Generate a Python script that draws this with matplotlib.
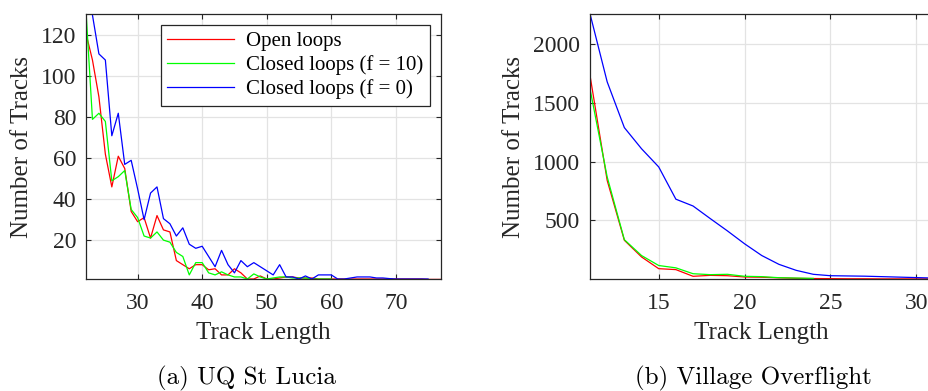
import numpy as np
import matplotlib
matplotlib.use("Agg")
import matplotlib.pyplot as plt

# (a) UQ St Lucia: track length 22..77
len_a = list(range(22, 78))
open_a = [121, 108, 90, 62, 46, 61, 55, 34, 29, 31, 21, 32, 25, 24, 10, 8, 6, 8, 8, 5.5,
          6, 3, 3, 6, 4, 1, 1, 2.5, 1, 1, 1.5, 2, 2, 1.5, 1.5, 1.5, 1, 1, 1, 1,
          1, 1, 1, 1, 1, 1, 1, 1, 1, 1, 1, 1, 1, 0.8, 0.8, 0.8]
closed10_a = [132, 79, 82, 78, 49, 51, 54, 35, 31, 22, 21, 24, 20, 19, 14, 12, 3, 9, 9, 4,
              3, 4.5, 3, 2, 2, 1, 3.5, 2, 1, 1.5, 2, 2, 1.5, 1.5, 1.5, 1, 1, 1, 1]
closed0_a = [150, 130, 111, 108, 71, 82, 57, 59, 45, 30, 43, 46, 30.5, 28, 22, 26, 18, 16, 17, 12,
             7, 15, 8, 4, 10, 7, 9, 7, 5, 3, 8, 2, 2, 1, 2.5, 1, 3, 3, 3, 1,
             1, 1.5, 2, 2, 2, 1.5, 1.5, 1.2, 1, 1, 1, 1, 1, 1]

# (b) Village Overflight: track length 11..31
len_b = list(range(11, 32))
open_b = [1735, 840, 330, 188, 88, 80, 23, 31, 28, 17, 15, 10, 6, 4, 3, 2, 2, 1, 1, 1, 1]
closed10_b = [1620, 870, 335, 200, 115, 95, 45, 37, 40, 23, 20, 11, 8, 5]
closed0_b = [2260, 1680, 1290, 1110, 955, 680, 622, 515, 410, 300, 200, 125, 74, 40, 28,
             26, 24, 20, 16, 12, 8]

labels = ["Open loops", "Closed loops (f = 10)", "Closed loops (f = 0)"]
colors = ["#ff0000", "#00ff00", "#0000ff"]

plt.rcParams["font.family"] = ["Liberation Serif", "DejaVu Serif"]

fig = plt.figure(figsize=(9.29, 3.91), dpi=100)
W, H = 929, 391


def make_axes(x0, x1, y0, y1):
    ax = fig.add_axes([x0 / W, 1 - y1 / H, (x1 - x0) / W, (y1 - y0) / H])
    ax.grid(True, color="#e3e3e3", linewidth=0.9)
    ax.set_axisbelow(True)
    for s in ax.spines.values():
        s.set_color("#262626")
        s.set_linewidth(0.9)
    ax.tick_params(direction="in", top=True, right=True, length=3.5, width=0.8,
                   labelsize=17, colors="#262626")
    ax.tick_params(axis="x", pad=10)
    ax.tick_params(axis="y", pad=7)
    return ax


ax1 = make_axes(86, 441, 14, 279)
ax1.plot(len_a[:len(open_a)], open_a, color=colors[0], lw=0.9, label=labels[0])
ax1.plot(len_a[:len(closed10_a)], closed10_a, color=colors[1], lw=0.9, label=labels[1])
ax1.plot(len_a[:len(closed0_a)], closed0_a, color=colors[2], lw=0.9, label=labels[2])
ax1.set_xlim(22, 77)
ax1.set_ylim(1, 130.5)
ax1.set_xticks([30, 40, 50, 60, 70])
ax1.set_yticks([20, 40, 60, 80, 100, 120])
ax1.set_xlabel("Track Length", fontsize=18, color="#262626", labelpad=6)
ax1.set_ylabel("Number of Tracks", fontsize=18, color="#262626", labelpad=6)
leg = ax1.legend(loc="upper right", fontsize=15, fancybox=False, framealpha=1,
                 edgecolor="#262626", handlelength=3.2, borderaxespad=0.55,
                 labelspacing=0.2, borderpad=0.3, handletextpad=0.6)
leg.get_frame().set_linewidth(0.9)

ax2 = make_axes(590, 933.5, 14, 279)
ax2.plot(len_b[:len(open_b)], open_b, color=colors[0], lw=0.9)
ax2.plot(len_b[:len(closed10_b)], closed10_b, color=colors[1], lw=0.9)
ax2.plot(len_b[:len(closed0_b)], closed0_b, color=colors[2], lw=0.9)
ax2.set_xlim(11, 31)
ax2.set_ylim(0, 2258)
ax2.set_xticks([15, 20, 25, 30])
ax2.set_yticks([500, 1000, 1500, 2000])
ax2.set_xlabel("Track Length", fontsize=18, color="#262626", labelpad=6)
ax2.set_ylabel("Number of Tracks", fontsize=18, color="#262626", labelpad=6)

fig.text(246 / W, 1 - 378 / H, "(a) UQ St Lucia", family="cmr10", fontsize=18,
         ha="center", va="center")
fig.text(753 / W, 1 - 378 / H, "(b) Village Overflight", family="cmr10", fontsize=18,
         ha="center", va="center")

fig.savefig("out.png", dpi=100)
